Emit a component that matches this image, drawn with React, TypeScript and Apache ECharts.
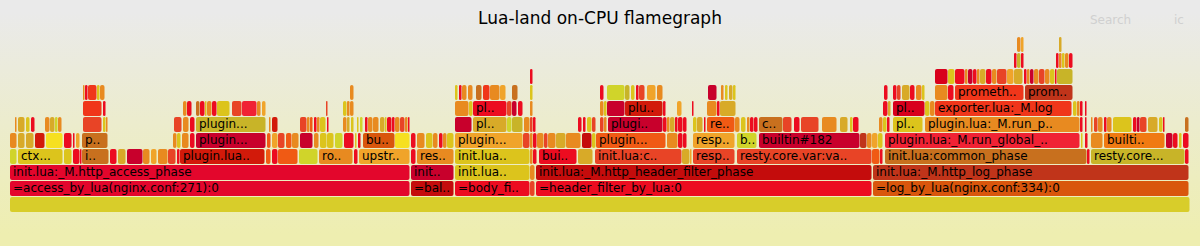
import React, { useEffect, useRef } from "react";
import * as echarts from "echarts";

// Frames per stack depth: [startSample, endSample, name, colourKey]
const level0 = [[0, 1180, "", "q"]];
const level1 = [
  [0, 400, "=access_by_lua(nginx.conf:271):0", "a"],
  [401, 444, "=bal..", "d"],
  [445, 520, "=body_fi..", "b"],
  [520, 525, "", "e"],
  [526, 862, "=header_filter_by_lua:0", "b"],
  [863, 1179, "=log_by_lua(nginx.conf:334):0", "o"],
];
const level2 = [
  [0, 400, "init.lua:_M.http_access_phase", "a"],
  [401, 444, "init..", "c"],
  [445, 520, "init.lua..", "k"],
  [520, 525, "", "g"],
  [526, 862, "init.lua:_M.http_header_filter_phase", "d"],
  [863, 1179, "init.lua:_M.http_log_phase", "p"],
];
const level3 = [
  [0, 7, "", "n"], [8, 53, "ctx...", "k"], [54, 62, "", "k"], [63, 70, "", "b"], [70, 72, "", "b"],
  [72, 99, "i..", "i"], [100, 107, "", "b"], [108, 116, "", "j"], [117, 133, "", "c"], [133, 140, "", "g"],
  [141, 147, "", "h"], [148, 158, "", "g"], [158, 166, "", "e"], [167, 170, "", "b"],
  [170, 255, "plugin.lua..", "r"], [256, 261, "", "f"], [262, 268, "", "b"], [268, 288, "", "f"],
  [289, 308, "", "n"], [309, 343, "ro..", "g"], [344, 348, "", "b"], [349, 400, "upstr..", "h"],
  [401, 406, "", "b"], [407, 444, "res..", "g"], [445, 520, "init.lua..", "k"], [520, 523, "", "g"],
  [523, 527, "", "b"], [529, 567, "bui..", "b"], [568, 583, "", "j"], [585, 672, "init.lua:c..", "e"],
  [672, 680, "", "j"], [680, 682, "", "h"], [683, 725, "resp..", "e"], [727, 862, "resty.core.var:va..", "e"],
  [862, 870, "", "f"], [870, 873, "", "b"], [875, 1077, "init.lua:common_phase", "i"], [1077, 1080, "", "b"],
  [1081, 1175, "resty.core...", "m"], [1175, 1179, "", "b"],
];
const level4 = [
  [0, 7, "", "g"], [8, 15, "", "j"], [16, 24, "", "j"], [25, 35, "", "r"], [36, 53, "", "l"],
  [54, 62, "", "b"], [63, 65, "", "b"], [66, 70, "", "h"], [72, 98, "p..", "i"],
  [163, 167, "", "g"], [167, 171, "", "k"], [172, 179, "", "g"], [180, 185, "", "b"],
  [186, 256, "plugin...", "c"], [257, 261, "", "f"], [262, 268, "", "h"], [268, 275, "", "e"],
  [276, 282, "", "f"], [282, 289, "", "g"], [290, 303, "", "c"], [304, 309, "", "g"], [310, 317, "", "k"],
  [317, 324, "", "k"], [325, 333, "", "n"], [334, 344, "", "b"], [345, 347, "", "k"], [348, 351, "", "b"],
  [353, 385, "bu..", "o"], [385, 400, "", "l"], [401, 406, "", "b"], [407, 415, "", "g"], [416, 423, "", "k"],
  [423, 428, "", "g"], [429, 433, "", "b"], [433, 437, "", "g"], [437, 444, "", "k"],
  [445, 513, "plugin...", "h"], [513, 520, "", "e"], [520, 523, "", "g"], [523, 527, "", "b"],
  [527, 534, "", "g"], [534, 538, "", "e"], [538, 546, "", "g"], [546, 556, "", "j"], [556, 571, "", "g"],
  [572, 582, "", "d"], [582, 586, "", "k"], [586, 656, "plugin...", "f"], [657, 668, "", "g"],
  [668, 673, "", "b"], [673, 677, "", "b"], [683, 725, "resp..", "h"], [727, 747, "b..", "n"],
  [749, 850, "builtin#182", "c"], [850, 857, "", "p"], [857, 862, "", "g"], [862, 868, "", "h"],
  [868, 873, "", "k"], [875, 1070, "plugin.lua:_M.run_global_..", "s"], [1071, 1073, "", "k"],
  [1075, 1078, "", "b"], [1081, 1093, "", "g"], [1094, 1155, "builti..", "t"], [1156, 1163, "", "c"],
  [1163, 1168, "", "b"], [1169, 1172, "", "k"], [1173, 1179, "", "b"],
];
const level5 = [
  [5, 7, "", "g"], [8, 15, "", "j"], [16, 20, "", "k"], [21, 25, "", "b"], [35, 40, "", "g"],
  [40, 45, "", "j"], [45, 48, "", "n"], [48, 52, "", "g"], [73, 92, "", "e"], [93, 96, "", "k"],
  [96, 98, "", "g"], [164, 172, "", "e"], [173, 179, "", "g"], [180, 185, "", "b"],
  [186, 256, "plugin...", "m"], [259, 261, "", "g"], [262, 268, "", "r"], [290, 297, "", "e"],
  [297, 300, "", "g"], [300, 303, "", "f"], [304, 307, "", "b"], [307, 310, "", "g"], [310, 316, "", "k"],
  [317, 319, "", "b"], [333, 337, "", "g"], [337, 340, "", "j"], [341, 344, "", "k"], [347, 349, "", "k"],
  [350, 353, "", "n"], [355, 358, "", "b"], [358, 363, "", "g"], [363, 369, "", "g"], [370, 375, "", "j"],
  [375, 377, "", "k"], [377, 382, "", "b"], [382, 385, "", "b"], [385, 390, "", "g"], [390, 395, "", "e"],
  [395, 398, "", "g"], [398, 400, "", "b"], [445, 462, "", "c"], [463, 497, "pl..", "j"],
  [497, 502, "", "n"], [502, 513, "", "m"], [514, 520, "", "g"], [520, 523, "", "e"], [523, 526, "", "b"],
  [568, 572, "", "b"], [573, 576, "", "b"], [577, 582, "", "k"], [582, 586, "", "e"], [590, 594, "", "e"],
  [594, 597, "", "g"], [598, 653, "plugi..", "c"], [653, 657, "", "b"], [657, 660, "", "g"],
  [660, 665, "", "j"], [665, 668, "", "b"], [668, 673, "", "b"], [673, 677, "", "b"], [683, 687, "", "k"],
  [687, 693, "", "j"], [694, 696, "", "b"], [697, 725, "re..", "f"], [725, 730, "", "g"], [731, 736, "", "k"],
  [737, 740, "", "g"], [740, 744, "", "b"], [744, 748, "", "b"], [749, 773, "c..", "i"], [773, 782, "", "e"],
  [784, 790, "", "b"], [791, 809, "", "e"], [812, 827, "", "g"], [830, 838, "", "j"], [840, 843, "", "k"],
  [843, 849, "", "b"], [869, 873, "", "g"], [873, 877, "", "k"], [877, 880, "", "b"],
  [883, 913, "pl..", "k"], [915, 1070, "plugin.lua:_M.run_p..", "g"], [1070, 1073, "", "b"],
  [1075, 1077, "", "b"], [1081, 1083, "", "g"], [1084, 1088, "", "e"], [1088, 1093, "", "g"],
  [1094, 1097, "", "b"], [1097, 1102, "", "g"], [1103, 1122, "", "k"], [1123, 1127, "", "b"],
  [1127, 1130, "", "c"], [1130, 1137, "", "e"], [1138, 1148, "", "j"], [1149, 1153, "", "k"],
  [1153, 1155, "", "b"], [1175, 1179, "", "i"],
];
const level6 = [
  [73, 92, "", "u"], [93, 96, "", "b"], [173, 177, "", "g"], [177, 182, "", "b"], [186, 190, "", "i"],
  [190, 195, "", "b"], [195, 197, "", "k"], [197, 202, "", "g"], [202, 207, "", "b"], [207, 220, "", "k"],
  [222, 232, "", "e"], [232, 247, "", "s"], [247, 251, "", "g"], [252, 256, "", "h"], [316, 318, "", "e"],
  [333, 337, "", "k"], [337, 340, "", "g"], [340, 344, "", "g"], [445, 459, "", "g"], [459, 463, "", "k"],
  [463, 497, "pl..", "b"], [497, 502, "", "e"], [502, 507, "", "c"], [508, 513, "", "b"], [520, 523, "", "g"],
  [590, 594, "", "g"], [594, 597, "", "k"], [597, 615, "", "c"], [615, 653, "plu..", "r"], [653, 656, "", "b"],
  [667, 672, "", "h"], [682, 684, "", "b"], [697, 707, "", "g"], [707, 710, "", "b"], [710, 726, "", "j"],
  [873, 878, "", "b"], [878, 881, "", "j"], [883, 915, "pl..", "v"], [915, 920, "", "k"], [920, 925, "", "g"],
  [925, 1062, "exporter.lua:_M.log", "u"], [1063, 1067, "", "k"], [1067, 1070, "", "g"],
  [1070, 1073, "", "b"], [1075, 1077, "", "b"],
];
const level7 = [
  [73, 75, "", "g"], [75, 78, "", "b"], [78, 87, "", "u"], [87, 90, "", "k"], [90, 95, "", "g"],
  [340, 344, "", "g"], [445, 448, "", "k"], [449, 452, "", "b"], [452, 457, "", "g"], [458, 463, "", "g"],
  [466, 472, "", "i"], [473, 480, "", "u"], [480, 490, "", "g"], [490, 496, "", "h"], [502, 508, "", "i"],
  [520, 523, "", "k"], [590, 594, "", "b"], [597, 615, "", "n"], [615, 620, "", "m"], [621, 625, "", "k"],
  [626, 629, "", "b"], [629, 635, "", "e"], [637, 646, "", "h"], [647, 653, "", "g"], [698, 707, "", "c"],
  [711, 714, "", "g"], [715, 718, "", "k"], [719, 723, "", "j"], [723, 726, "", "k"], [874, 878, "", "b"],
  [883, 887, "", "b"], [887, 891, "", "e"], [892, 900, "", "j"], [900, 905, "", "b"], [906, 912, "", "g"],
  [912, 915, "", "k"], [925, 938, "", "g"], [938, 944, "", "b"], [945, 1014, "prometh..", "u"],
  [1015, 1063, "prom..", "p"],
];
const level8 = [
  [520, 523, "", "b"], [925, 938, "", "v"], [938, 945, "", "k"], [945, 955, "", "b"], [955, 958, "", "g"],
  [958, 963, "", "c"], [963, 967, "", "b"], [967, 970, "", "g"], [970, 976, "", "j"], [976, 982, "", "b"],
  [982, 987, "", "g"], [987, 997, "", "e"], [997, 1004, "", "h"], [1004, 1013, "", "j"], [1014, 1017, "", "b"],
  [1017, 1020, "", "g"], [1020, 1024, "", "c"], [1024, 1029, "", "g"], [1029, 1035, "", "e"],
  [1035, 1040, "", "g"], [1040, 1045, "", "k"], [1045, 1047, "", "b"], [1047, 1063, "", "m"],
];
const level9 = [
  [1004, 1007, "", "b"], [1007, 1011, "", "m"], [1011, 1014, "", "b"], [1046, 1049, "", "b"],
  [1049, 1052, "", "g"], [1052, 1055, "", "k"], [1055, 1059, "", "g"], [1059, 1063, "", "b"],
];
const level10 = [[1007, 1011, "", "g"], [1011, 1014, "", "h"], [1049, 1052, "", "j"]];

const levels = [level0, level1, level2, level3, level4, level5, level6, level7, level8, level9, level10];
const TOTAL_SAMPLES = 1180;

const PALETTE: Record<string, string> = {
  a: "#e3062c", b: "#ec0c20", c: "#c8002c", d: "#c40c0c", e: "#e84426", f: "#f05a14",
  g: "#e88a20", h: "#f0a42a", i: "#c8701e", j: "#d8aa28", k: "#dcc41c", l: "#f6e020",
  m: "#c8b428", n: "#d0d42a", o: "#d9560c", p: "#c0341a", q: "#d8cd2a", r: "#d21a0a",
  s: "#f02234", t: "#f07a12", u: "#f0361a", v: "#d8001c",
};

const TITLE = "Lua-land on-CPU flamegraph";
const FONT = "DejaVu Sans";

export default function App() {
  const ref = useRef<HTMLDivElement>(null);
  useEffect(() => {
    if (!ref.current) return;
    const chart = echarts.init(ref.current, undefined, { renderer: "svg" });
    const frames: any[] = [];
    levels.forEach((lv, depth) => {
      lv.forEach((f: any) => {
        frames.push({
          value: [depth, f[0], f[1]],
          name: f[2],
          itemStyle: { color: PALETTE[f[3]] },
        });
      });
    });
    chart.setOption({
      animation: false,
      backgroundColor: "transparent",
      grid: { left: 10, right: 10, top: 21, bottom: 33 },
      xAxis: { type: "value", min: 0, max: TOTAL_SAMPLES, show: false },
      yAxis: { type: "value", min: 0, max: 12, show: false },
      graphic: [
        {
          type: "text", x: 600, y: 18,
          style: { text: TITLE, fill: "#000", fontSize: 17, fontFamily: FONT, align: "center", verticalAlign: "middle", textAlign: "center", textVerticalAlign: "middle" },
        },
        {
          type: "text", x: 1090, y: 20,
          style: { text: "Search", fill: "#d0d0d0", fontSize: 12, fontFamily: FONT, align: "left", verticalAlign: "middle", textAlign: "left", textVerticalAlign: "middle" },
        },
        {
          type: "text", x: 1174, y: 20,
          style: { text: "ic", fill: "#d0d0d0", fontSize: 12, fontFamily: FONT, align: "left", verticalAlign: "middle", textAlign: "left", textVerticalAlign: "middle" },
        },
      ],
      series: [
        {
          type: "custom",
          clip: false,
          data: frames,
          renderItem: (params: any, api: any) => {
            const depth = api.value(0);
            const s = api.value(1);
            const e = api.value(2);
            const p0 = api.coord([s, depth + 1]);
            const p1 = api.coord([e, depth]);
            const x = p0[0];
            const y = p0[1];
            const w = Math.max(p1[0] - p0[0] - 0.5, 0.6);
            const h = p1[1] - p0[1] - 1;
            const name = frames[params.dataIndex].name;
            const children: any[] = [
              { type: "rect", shape: { x, y, width: w, height: h, r: 2 }, style: { fill: api.visual("color") } },
            ];
            if (name) {
              children.push({
                type: "text",
                style: {
                  text: name, x: x + 3, y: y + h / 2 - 1, fill: "#000", fontSize: 12, fontFamily: FONT,
                  align: "left", verticalAlign: "middle", textAlign: "left", textVerticalAlign: "middle",
                },
              });
            }
            return { type: "group", children };
          },
        },
      ],
    });
    return () => chart.dispose();
  }, []);
  return (
    <div
      ref={ref}
      style={{
        position: "fixed", left: 0, top: 0, width: 1200, height: 246,
        background: "linear-gradient(to bottom, #eaeaea 5%, #eeeeb0 95%)",
      }}
    />
  );
}
